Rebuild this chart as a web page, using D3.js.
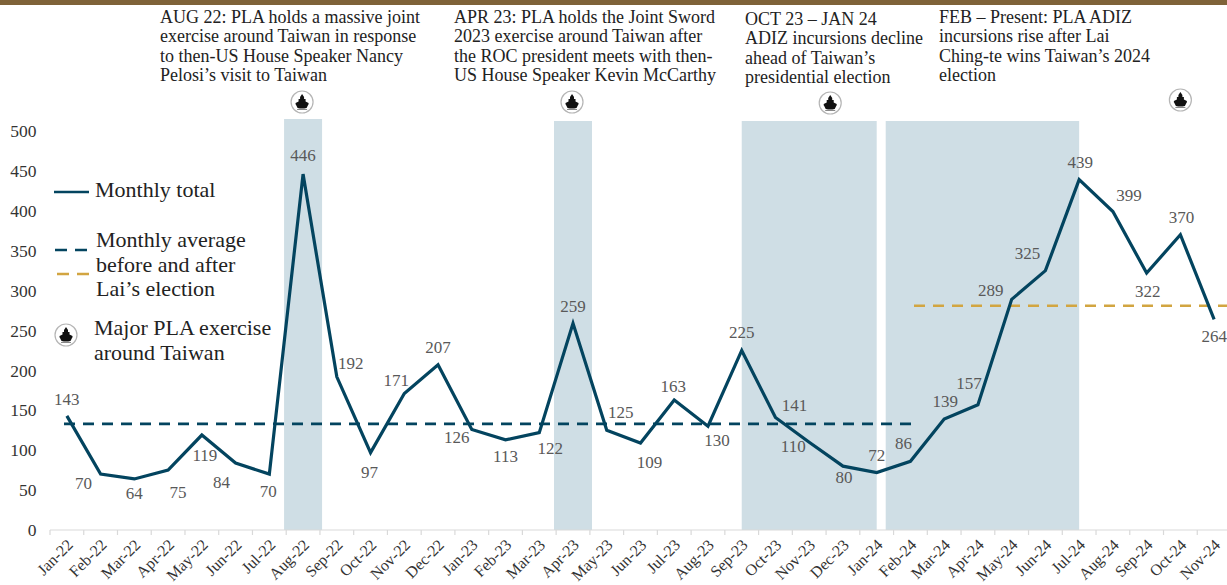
<!DOCTYPE html>
<html><head><meta charset="utf-8">
<script src="https://cdn.jsdelivr.net/npm/d3@7/dist/d3.min.js"></script>
<style>
html,body{margin:0;padding:0;background:#fff}
svg{display:block}
text{font-family:"Liberation Serif",serif}
</style></head><body>
<svg id="c" width="1227" height="585"></svg>
<script>
const months = ["Jan-22","Feb-22","Mar-22","Apr-22","May-22","Jun-22","Jul-22","Aug-22","Sep-22","Oct-22","Nov-22","Dec-22","Jan-23","Feb-23","Mar-23","Apr-23","May-23","Jun-23","Jul-23","Aug-23","Sep-23","Oct-23","Nov-23","Dec-23","Jan-24","Feb-24","Mar-24","Apr-24","May-24","Jun-24","Jul-24","Aug-24","Sep-24","Oct-24","Nov-24"];
const monthlyTotal = [143,70,64,75,119,84,70,446,192,97,171,207,126,113,122,259,125,109,163,130,225,141,110,80,72,86,139,157,289,325,439,399,322,370,264];
const yTicks = [0,50,100,150,200,250,300,350,400,450,500];
const averageBefore = {from:"Jan-22", to:"Feb-24", value:133};
const averageAfter = {from:"Feb-24", to:"Nov-24", value:281};
const bands = [["Aug-22","Aug-22"],["Apr-23","Apr-23"],["Sep-23","Jan-24"],["Jan-24","Jul-24"]];
const notes = [
 ["AUG 22: PLA holds a massive joint","exercise around Taiwan in response","to then-US House Speaker Nancy","Pelosi’s visit to Taiwan"],
 ["APR 23: PLA holds the Joint Sword","2023 exercise around Taiwan after","the ROC president meets with then-","US House Speaker Kevin McCarthy"],
 ["OCT 23 – JAN 24","ADIZ incursions decline","ahead of Taiwan’s","presidential election"],
 ["FEB – Present: PLA ADIZ","incursions rise after Lai","Ching-te wins Taiwan’s 2024","election"]
];
const legendLabels = {total:["Monthly total"],avg:["Monthly average","before and after","Lai’s election"],ex:["Major PLA exercise","around Taiwan"]};

// layout (not data)
const labelOffsets = [[0,-17],[-17,9],[0,14],[10,22],[3,20],[-14,19],[-1,17],[0,-19],[14,-14],[-1,19],[-8,-13],[0,-18],[-15,8],[0,16],[11,15],[0,-17],[14,-18],[9,19],[-1,-14],[9,14],[0,-18],[19,-12],[-16,4],[1,11],[0,-17],[-7,-18],[1,-18],[-9,-22],[-21,-9],[-18,-18],[1,-18],[16,-17],[1,18],[1,-18],[0,17]];
const noteX = [160,454,745,939], noteY = [23,23,25,23];
const iconAt = [["Aug-22",-1,102],["Apr-23",-1,102],["Nov-23",21,103],["Oct-24",0,100]];

(function(){
const svg = d3.select("#c");
const navy="#03445f", gold="#d2a541", bandCol="#cfdee5", txt="#333", lab="#595959";
const x = d3.scaleBand().domain(months).range([50,1231]);
const y = d3.scaleLinear().domain([0,500]).range([530,131]);
const cx = m => x(m)+x.bandwidth()/2;

svg.append("rect").attr("x",0).attr("y",0).attr("width",1227).attr("height",5).attr("fill","#7f6339");

// bands
const bandTop=[119,121,121,121];
svg.selectAll("rect.b").data(bands).join("rect").attr("class","b")
 .attr("x",(d,i)=>cx(d[0])+(i==3?9:i<2?-19:0))
 .attr("width",(d,i)=>cx(d[1])-cx(d[0])+(i<2?38:i==3?-9:0))
 .attr("y",(d,i)=>bandTop[i]).attr("height",(d,i)=>y(0)-bandTop[i]).attr("fill",bandCol);

// axes
const gx = svg.append("g").attr("transform",`translate(0,${y(0)})`);
gx.append("line").attr("x1",x.range()[0]).attr("x2",1227).attr("stroke","#d9d9d9").attr("stroke-width",1.2);
gx.selectAll("line.t").data(months.map(m=>x(m))).join("line").attr("class","t")
 .attr("x1",d=>d).attr("x2",d=>d).attr("y1",0).attr("y2",5).attr("stroke","#d9d9d9").attr("stroke-width",1.2);
const ax = d3.axisBottom(x).tickSize(0);
const gxl = svg.append("g").attr("transform",`translate(0,${y(0)})`).call(ax);
gxl.select(".domain").remove();
gxl.selectAll("text").attr("font-size",16).attr("fill",txt).attr("text-anchor","end")
 .attr("transform","translate(3,12) rotate(-45)").attr("dy","0.35em").attr("y",0).attr("x",0);

const gy = svg.append("g").attr("transform","translate(36.5,0)").call(d3.axisLeft(y).tickValues(yTicks).tickSize(0).tickPadding(0));
gy.select(".domain").remove();
gy.selectAll("text").attr("font-size",17.5).attr("fill",txt);

// averages
[[averageBefore,navy,64,912],[averageAfter,gold,914,1227]].forEach(([a,c,x1,x2])=>{
 svg.append("line").attr("x1",x1).attr("x2",x2).attr("y1",y(a.value)).attr("y2",y(a.value))
  .attr("stroke",c).attr("stroke-width",2.6).attr("stroke-dasharray","11 8");
});

// line
svg.append("path").datum(monthlyTotal)
 .attr("fill","none").attr("stroke",navy).attr("stroke-width",3.2).attr("stroke-linejoin","miter")
 .attr("d",d3.line().x((d,i)=>cx(months[i])).y(d=>y(d)));

// value labels
svg.selectAll("text.v").data(monthlyTotal).join("text").attr("class","v")
 .attr("x",(d,i)=>cx(months[i])+labelOffsets[i][0]).attr("y",(d,i)=>y(d)+labelOffsets[i][1])
 .attr("dy","0.35em").attr("text-anchor","middle").attr("font-size",17).attr("fill",lab).text(d=>d);

// notes
function multi(lines,xp,yp,lh,fs,fill){
 const t=svg.append("text").attr("font-size",fs).attr("fill",fill);
 lines.forEach((l,i)=>t.append("tspan").attr("x",xp).attr("y",yp+i*lh).text(l));
}
notes.forEach((n,i)=>multi(n,noteX[i],noteY[i],19.4,18,"#222"));

// icons
function ship(px,py){
 const g=svg.append("g").attr("transform",`translate(${px},${py})`);
 g.append("circle").attr("r",11).attr("fill","#fff").attr("stroke","#b5b5b5").attr("stroke-width",1.2);
 g.append("path").attr("fill","#111").attr("d","M0,-8l2,3v2h1.5v2.5l3,1.5v1.5h-13v-1.5l3,-1.5v-2.5h1.5v-2zM-6.5,2h13l-2,4q-4.5,1 -9,0z");
 g.append("path").attr("fill","none").attr("stroke","#555").attr("stroke-width",0.7).attr("d","M-5,7.5h10");
}
iconAt.forEach(([m,dx,py])=>ship(cx(m)+dx,py));
ship(66,335);

// legend
svg.append("line").attr("x1",54).attr("x2",89).attr("y1",192).attr("y2",192).attr("stroke",navy).attr("stroke-width",2.6);
svg.append("line").attr("x1",55).attr("x2",88).attr("y1",250).attr("y2",250).attr("stroke",navy).attr("stroke-width",2.6).attr("stroke-dasharray","12 8");
svg.append("line").attr("x1",57).attr("x2",89).attr("y1",274).attr("y2",274).attr("stroke",gold).attr("stroke-width",2.6).attr("stroke-dasharray","12 8");
multi(legendLabels.total,95,197,24.6,22,"#222");
multi(legendLabels.avg,96,247,24.6,22,"#222");
multi(legendLabels.ex,94,335,25,22,"#222");
})();
</script>
</body></html>
